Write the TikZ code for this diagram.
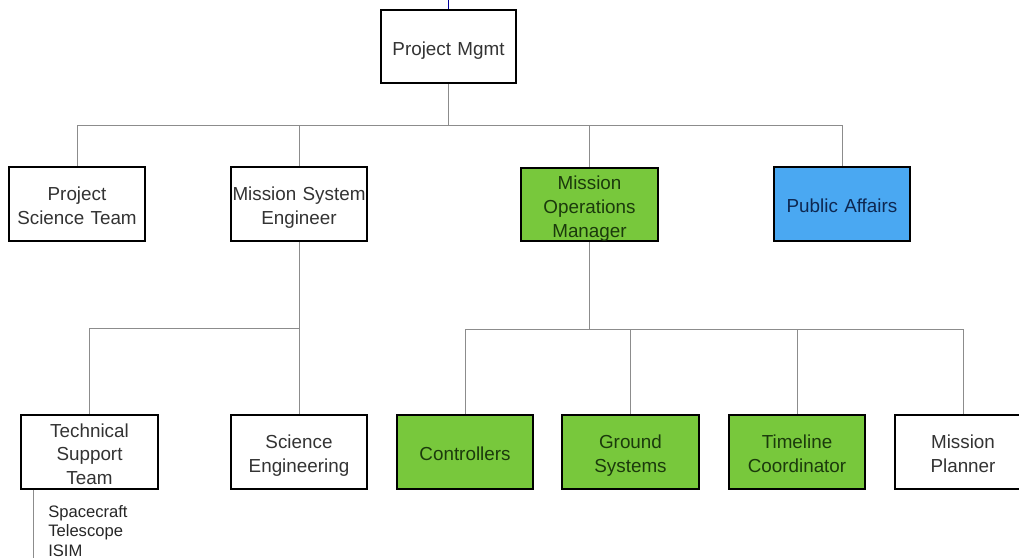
\documentclass[tikz,border=0pt]{standalone}
\usepackage{fontspec}
\setmainfont{Liberation Sans}

\definecolor{opsgreen}{HTML}{78C83C}
\definecolor{opsgreentext}{HTML}{1B3A0C}
\definecolor{paBlue}{HTML}{4AA8F2}
\definecolor{paBluetext}{HTML}{0E2750}
\definecolor{linegray}{HTML}{8C8C8C}

\begin{document}
\begin{tikzpicture}[
    x=0.025cm, y=-0.025cm,
    unit/.style={
        rectangle,
        draw=black,
        line width=1.5pt,
        fill=white,
        text=black!80,
        align=center,
        text width=3.34cm,
        minimum width=3.42cm,
        minimum height=1.84cm,
        inner xsep=0pt,
        inner ysep=-4pt,
        font=\fontsize{13.4}{17}\selectfont,
        execute at begin node={\rule{0pt}{16.2pt}},
        execute at end node={\rule[-3.5pt]{0pt}{0pt}}
    },
    ops/.style={unit, fill=opsgreen, text=opsgreentext},
    pr/.style={unit, fill=paBlue, text=paBluetext},
    conn/.style={draw=linegray, line width=0.6pt}
]

\useasboundingbox (0,0) rectangle (1019,558);
\clip (0,0) rectangle (1019,558);

% Top level
\node[unit, minimum width=3.37cm] (pm) at (448.5,46.5) {Project Mgmt};
\coordinate (feed) at (448.5,0);
\draw[blue!60!black, line width=0.6pt] (feed) -- (pm.north);

% Second level
\node[unit, minimum width=3.4cm] (pst) at (77,204) {Project\\Science Team};
\node[unit] (mse) at (299,204) {Mission System\\Engineer};
\node[ops] (mom) at (589.5,204.5) {Mission\\Operations\\Manager};
\node[pr] (pa) at (842,204) {Public Affairs};

% Third level
\node[unit] (tst) at (89.5,452) {Technical\\Support\\Team};
\node[unit] (se) at (299,452) {Science\\Engineering};
\node[ops] (ctl) at (465,452) {Controllers};
\node[ops] (gs) at (630.5,452) {Ground\\Systems};
\node[ops] (tc) at (797,452) {Timeline\\Coordinator};
\node[unit] (mp) at (963,452) {Mission\\Planner};

% Connectors
\coordinate (bus1) at (448.5,125);
\coordinate (bus2) at (299,328);
\coordinate (bus3) at (589.5,329);

\draw[conn] (pm.south) -- (bus1);
\foreach \n in {pst,mse,mom,pa}
    \draw[conn] (bus1) -| (\n.north);

\draw[conn] (mse.south) -- (se.north);
\draw[conn] (bus2) -| (tst.north);

\draw[conn] (mom.south) -- (bus3);
\foreach \n in {ctl,gs,tc,mp}
    \draw[conn] (bus3) -| (\n.north);

% Support team items
\coordinate (tstend) at (33,558);
\draw[conn] (tst.south -| tstend) -- (tstend);
\node[anchor=north west, align=left, inner sep=0pt, text=black!85,
      font=\fontsize{11.8}{13.9}\selectfont] (items) at (48,505)
    {Spacecraft\\Telescope\\ISIM};

\end{tikzpicture}
\end{document}
